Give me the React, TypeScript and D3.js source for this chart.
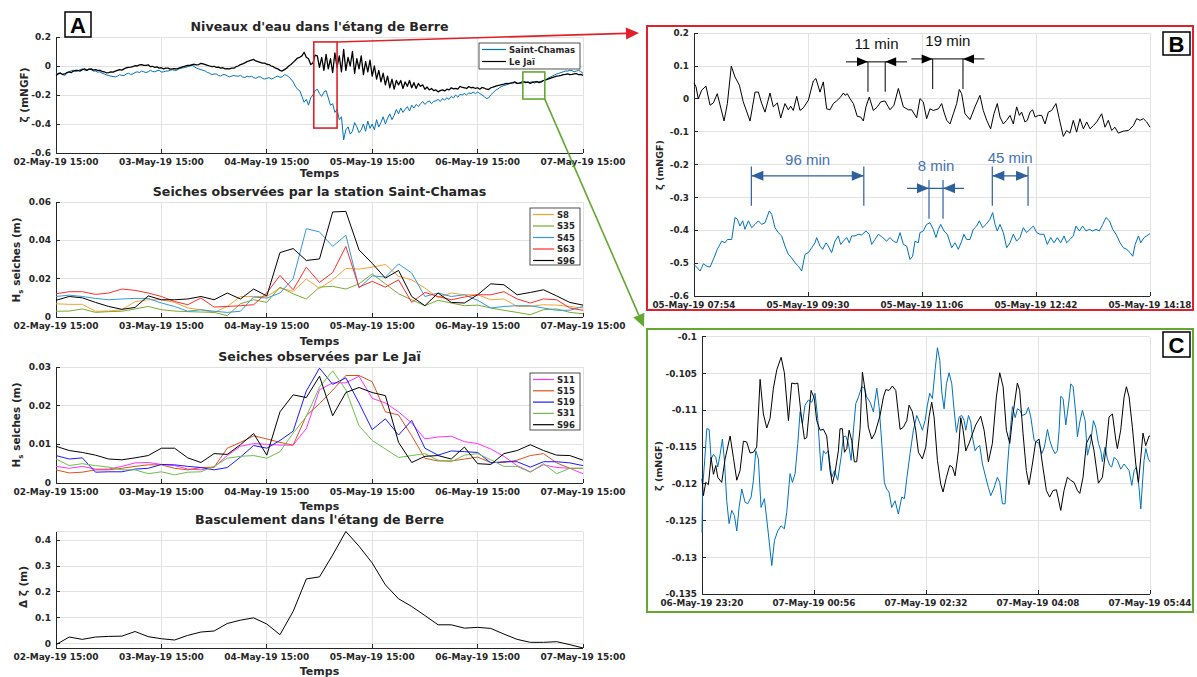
import * as d3 from 'd3';
import { useCallback } from 'react';

const W = 1197;
const H = 677;
const FONT = 'DejaVu Sans, sans-serif';
const INK = '#262626';
const GRID = '#e2e2e2';

// time origins
const aStart = new Date(2019, 4, 2, 15, 0);
const bStart = new Date(2019, 4, 5, 7, 54);
const cStart = new Date(2019, 4, 6, 23, 20);

// A1: half-hourly water levels (mNGF)
const saintChamas = [
  -0.055, -0.05, -0.045, -0.06, -0.065, -0.05, -0.04, -0.032, -0.03, -0.038, -0.035, -0.025, -0.02, -0.028, -0.03, -0.022, -0.025, -0.035, -0.035, -0.042, -0.04,
  -0.05, -0.055, -0.062, -0.065, -0.07, -0.072, -0.075, -0.07, -0.06, -0.065, -0.065, -0.055, -0.05, -0.058, -0.055, -0.045, -0.04, -0.045, -0.035, -0.04,
  -0.045, -0.04, -0.03, -0.038, -0.04, -0.032, -0.03, -0.042, -0.04, -0.035, -0.035, -0.03, -0.025, -0.03, -0.03, -0.02, -0.015, -0.012, -0.01, -0.005,
  0.0, 0.005, -0.005, -0.015, -0.02, -0.025, -0.03, -0.035, -0.045, -0.05, -0.06, -0.055, -0.055, -0.065, -0.07, -0.06, -0.06, -0.068, -0.075, -0.07,
  -0.065, -0.07, -0.07, -0.065, -0.075, -0.08, -0.07, -0.075, -0.07, -0.08, -0.085, -0.075, -0.075, -0.085, -0.09, -0.085, -0.08, -0.09, -0.085, -0.075,
  -0.07, -0.078, -0.075, -0.06, -0.065, -0.075, -0.09, -0.11, -0.14, -0.16, -0.17, -0.21, -0.25, -0.23, -0.27, -0.22, -0.2, -0.17, -0.16, -0.19,
  -0.21, -0.18, -0.17, -0.22, -0.27, -0.26, -0.32, -0.3, -0.37, -0.35, -0.51, -0.44, -0.42, -0.47, -0.45, -0.39, -0.42, -0.46, -0.44, -0.4,
  -0.45, -0.38, -0.43, -0.4, -0.44, -0.37, -0.42, -0.39, -0.35, -0.4, -0.36, -0.33, -0.37, -0.34, -0.3, -0.33, -0.29, -0.32, -0.3, -0.28,
  -0.31, -0.27, -0.29, -0.265, -0.28, -0.26, -0.245, -0.265, -0.25, -0.24, -0.26, -0.245, -0.24, -0.23, -0.245, -0.225, -0.235, -0.22, -0.23, -0.21,
  -0.22, -0.2, -0.215, -0.195, -0.2, -0.19, -0.2, -0.185, -0.19, -0.18, -0.19, -0.18, -0.19, -0.2, -0.21, -0.225, -0.22, -0.2, -0.185, -0.17,
  -0.16, -0.15, -0.14, -0.135, -0.13, -0.125, -0.12, -0.118, -0.115, -0.12, -0.118, -0.122, -0.112, -0.11, -0.115, -0.112, -0.11, -0.118, -0.108, -0.11,
  -0.105, -0.1, -0.095, -0.085, -0.078, -0.07, -0.062, -0.055, -0.05, -0.045, -0.04, -0.035, -0.035, -0.03, -0.032, -0.04, -0.035, -0.03, -0.038, -0.05,
];
const leJai = [
  -0.065, -0.055, -0.05, -0.058, -0.055, -0.045, -0.04, -0.045, -0.035, -0.03, -0.03, -0.035, -0.025, -0.02, -0.03, -0.022, -0.02, -0.028, -0.025, -0.03, -0.03,
  -0.038, -0.04, -0.048, -0.045, -0.04, -0.042, -0.035, -0.03, -0.025, -0.028, -0.02, -0.012, -0.01, -0.008, -0.005, 0.002, 0.0, 0.008, 0.01, 0.004,
  0.005, 0.008, -0.005, -0.002, -0.01, -0.006, -0.015, -0.012, -0.02, -0.015, -0.015, -0.022, -0.02, -0.018, -0.02, -0.015, -0.01, -0.005, 0.0, 0.004,
  0.005, 0.01, 0.012, 0.008, 0.01, 0.018, 0.015, 0.01, 0.005, 0.0, -0.005, -0.002, -0.01, -0.008, -0.015, -0.012, -0.02, -0.018, -0.02, -0.015,
  -0.015, -0.005, 0.0, 0.01, 0.015, 0.022, 0.03, 0.035, 0.04, 0.045, 0.035, 0.03, 0.025, 0.02, 0.02, 0.012, 0.01, 0.0, -0.005, -0.015,
  -0.02, -0.03, -0.035, -0.025, -0.015, 0.0, 0.01, 0.025, 0.04, 0.055, 0.06, 0.07, 0.095, 0.06, 0.05, 0.01, 0.02, 0.075, 0.07, -0.01,
  0.06, -0.03, 0.08, -0.02, 0.05, -0.045, 0.09, -0.01, 0.07, -0.04, 0.115, -0.03, 0.06, 0.0, 0.1, -0.05, 0.05, -0.02, 0.07, -0.06,
  0.03, -0.04, 0.04, -0.07, 0.0, -0.09, -0.03, -0.11, -0.05, -0.13, -0.07, -0.15, -0.09, -0.16, -0.1, -0.13, -0.1, -0.155, -0.11, -0.14,
  -0.1, -0.15, -0.115, -0.155, -0.12, -0.14, -0.13, -0.16, -0.145, -0.165, -0.155, -0.17, -0.165, -0.178, -0.17, -0.165, -0.172, -0.16, -0.165, -0.15,
  -0.158, -0.155, -0.16, -0.14, -0.148, -0.15, -0.155, -0.142, -0.15, -0.148, -0.155, -0.15, -0.16, -0.148, -0.152, -0.16, -0.162, -0.15, -0.145, -0.14,
  -0.135, -0.132, -0.128, -0.125, -0.12, -0.122, -0.118, -0.115, -0.11, -0.12, -0.118, -0.112, -0.108, -0.115, -0.11, -0.12, -0.112, -0.11, -0.108, -0.115,
  -0.11, -0.1, -0.095, -0.09, -0.085, -0.08, -0.075, -0.07, -0.068, -0.065, -0.06, -0.058, -0.055, -0.06, -0.058, -0.055, -0.052, -0.06, -0.058, -0.065,
];

// A2: seiches at Saint-Chamas, every 3 h (m)
const scS8 = [0.0069, 0.0066, 0.0066, 0.003, 0.0031, 0.0038, 0.008, 0.009, 0.009, 0.0076, 0.0047, 0.0038, 0.0024, 0.0055, 0.0107, 0.0107, 0.0107, 0.0151, 0.0134, 0.0198, 0.0149, 0.0194, 0.0253, 0.025, 0.026, 0.0274, 0.0212, 0.0194, 0.0151, 0.0101, 0.0125, 0.0116, 0.0116, 0.009, 0.0094, 0.0055, 0.0055, 0.0064, 0.0062, 0.0055, 0.0047];
const scS35 = [0.003, 0.0031, 0.0042, 0.0024, 0.0028, 0.003, 0.0042, 0.0055, 0.0038, 0.0031, 0.0028, 0.0026, 0.0024, 0.0007, 0.0069, 0.009, 0.0076, 0.0156, 0.0121, 0.0094, 0.0156, 0.016, 0.0146, 0.0173, 0.0225, 0.0173, 0.0121, 0.009, 0.0059, 0.0087, 0.0073, 0.0059, 0.0062, 0.0047, 0.0035, 0.0024, 0.0012, 0.0038, 0.0042, 0.0024, 0.0017];
const scS45 = [0.0107, 0.0114, 0.0107, 0.0097, 0.009, 0.0094, 0.0097, 0.0097, 0.0073, 0.0055, 0.003, 0.0038, 0.003, 0.0024, 0.003, 0.0104, 0.0099, 0.0125, 0.02, 0.0461, 0.0444, 0.0368, 0.0427, 0.0151, 0.0215, 0.0208, 0.0277, 0.0229, 0.0107, 0.0125, 0.0107, 0.0116, 0.0087, 0.0047, 0.0055, 0.0059, 0.0059, 0.0047, 0.0035, 0.0035, 0.0055];
const scS63 = [0.0121, 0.0132, 0.0132, 0.0118, 0.0125, 0.0146, 0.0139, 0.0125, 0.0107, 0.0081, 0.0064, 0.0099, 0.0052, 0.0055, 0.0059, 0.0064, 0.0125, 0.0217, 0.0142, 0.026, 0.018, 0.0232, 0.0368, 0.0156, 0.0186, 0.0156, 0.0194, 0.0076, 0.0128, 0.0107, 0.009, 0.0104, 0.0116, 0.0116, 0.0132, 0.0094, 0.0073, 0.0094, 0.009, 0.0047, 0.0035];
const scS96 = [0.0087, 0.0107, 0.01, 0.0076, 0.0055, 0.004, 0.005, 0.011, 0.009, 0.009, 0.0094, 0.0107, 0.009, 0.0125, 0.0094, 0.0146, 0.011, 0.0336, 0.0357, 0.0295, 0.0303, 0.0548, 0.0551, 0.035, 0.028, 0.0203, 0.0243, 0.0107, 0.0059, 0.0125, 0.0076, 0.0073, 0.0116, 0.0173, 0.0168, 0.0116, 0.0128, 0.0142, 0.011, 0.0076, 0.0062];

// A3: seiches at Le Jaï, every 3 h (m)
const ljS11 = [0.0043, 0.0038, 0.0043, 0.0036, 0.0036, 0.0043, 0.0052, 0.0053, 0.0048, 0.0045, 0.0036, 0.0034, 0.0041, 0.0071, 0.0095, 0.0102, 0.01, 0.0098, 0.0098, 0.0141, 0.0241, 0.0259, 0.0259, 0.0276, 0.0219, 0.0207, 0.0184, 0.0155, 0.0114, 0.0119, 0.0121, 0.0107, 0.0102, 0.0088, 0.0069, 0.0045, 0.0029, 0.0047, 0.004, 0.0038, 0.0024];
const ljS15 = [0.0034, 0.0026, 0.0028, 0.0034, 0.0034, 0.0038, 0.0043, 0.0047, 0.0047, 0.0038, 0.0034, 0.004, 0.0041, 0.009, 0.0105, 0.0122, 0.0114, 0.0105, 0.0098, 0.0174, 0.0205, 0.024, 0.0278, 0.0278, 0.0262, 0.0184, 0.0176, 0.0122, 0.0064, 0.0057, 0.0057, 0.0062, 0.0067, 0.0053, 0.0053, 0.0059, 0.0071, 0.0076, 0.0052, 0.0038, 0.0038];
const ljS19 = [0.0071, 0.0062, 0.0065, 0.0028, 0.0029, 0.0029, 0.0036, 0.0038, 0.0048, 0.0047, 0.0043, 0.004, 0.0034, 0.004, 0.0067, 0.0097, 0.009, 0.011, 0.0134, 0.0238, 0.0297, 0.0255, 0.0272, 0.0207, 0.0138, 0.0166, 0.0124, 0.0162, 0.009, 0.0072, 0.0083, 0.0081, 0.0079, 0.0052, 0.0055, 0.0055, 0.0041, 0.0055, 0.0055, 0.0052, 0.0045];
const ljS31 = [0.0062, 0.0045, 0.005, 0.0045, 0.0041, 0.0034, 0.0034, 0.0024, 0.0029, 0.0021, 0.0028, 0.0029, 0.0043, 0.0064, 0.0069, 0.0071, 0.0064, 0.0081, 0.0129, 0.0172, 0.0248, 0.029, 0.0241, 0.0148, 0.011, 0.0088, 0.0066, 0.0071, 0.0076, 0.0059, 0.0055, 0.0072, 0.0076, 0.006, 0.0043, 0.0043, 0.0028, 0.005, 0.0024, 0.0038, 0.0038];
const ljS96 = [0.0095, 0.0084, 0.0079, 0.0072, 0.0062, 0.006, 0.0065, 0.0071, 0.009, 0.009, 0.0065, 0.0053, 0.0076, 0.0074, 0.0099, 0.0128, 0.0072, 0.0184, 0.0228, 0.0221, 0.0276, 0.0174, 0.0234, 0.0247, 0.0234, 0.0226, 0.0105, 0.0053, 0.0069, 0.0071, 0.0062, 0.0093, 0.005, 0.0048, 0.0076, 0.0084, 0.0099, 0.0084, 0.0072, 0.0071, 0.0059];

// A4: tilt of the lagoon, every 3 h (m)
const bascule = [-0.005, 0.0245, 0.0155, 0.0245, 0.027, 0.028, 0.046, 0.026, 0.018, 0.013, 0.031, 0.044, 0.048, 0.077, 0.09, 0.099, 0.075, 0.0335, 0.124, 0.25, 0.258, 0.343, 0.434, 0.377, 0.312, 0.227, 0.173, 0.143, 0.108, 0.072, 0.072, 0.059, 0.062, 0.058, 0.036, 0.0155, 0.004, 0.004, 0.0065, -0.005, -0.018];

// B: zoom on the storm, [minutes after 05-May 07:54, level]
const bLeJai = [[0,0.049],[1.7,0.037],[3.6,0],[6.5,0.027],[10.1,0.039],[13.5,-0.019],[16.3,-0.012],[19.6,0.016],[25.3,-0.067],[28.1,-0.014],[31.4,0.1],[34.5,0.067],[38.2,0.042],[41.5,-0.009],[47.2,-0.067],[51.4,0.021],[54.2,0.021],[57,-0.014],[59.8,-0.04],[64,0.018],[66.8,-0.024],[70.2,-0.012],[73,-0.058],[76.6,-0.014],[79.4,-0.033],[81.4,-0.022],[83.6,-0.035],[86.5,0.008],[89.3,-0.035],[92.1,-0.027],[96.3,-0.004],[100.5,0.055],[102.7,0.062],[106.1,0.021],[108.9,0.052],[111.7,-0.03],[114.5,-0.033],[117.3,-0.014],[120.1,-0.006],[123,0.004],[125.8,0.018],[127.2,0.011],[129.1,0.016],[131.4,0.001],[134.2,-0.014],[137.5,-0.053],[140.4,-0.055],[142.6,-0.067],[144.8,-0.024],[147.6,0.006],[151,-0.035],[154.4,-0.024],[157.2,-0.009],[160.8,-0.006],[165,-0.033],[168.4,-0.019],[172.1,0.032],[176.3,-0.024],[180.5,-0.033],[183.3,-0.033],[187.5,-0.057],[190.3,0.001],[193.1,-0.009],[195.9,-0.06],[198.7,-0.03],[201.5,-0.035],[205.8,-0.03],[208.6,-0.014],[210.5,-0.04],[212.8,-0.065],[215.6,-0.076],[218.4,-0.045],[221.2,-0.014],[223.4,0.029],[225.4,0.016],[228.2,-0.045],[232.4,-0.063],[236.6,-0.024],[240.8,0.011],[243.6,-0.035],[246.5,-0.065],[249.8,-0.091],[252.6,-0.045],[255.4,-0.014],[257.7,-0.055],[260.5,-0.076],[263.3,-0.065],[266.1,-0.05],[268.9,-0.076],[271.7,-0.024],[274,-0.05],[275.9,-0.04],[278.7,-0.07],[280.7,-0.065],[283,-0.04],[285.2,-0.033],[287.2,-0.055],[290,-0.05],[292.8,-0.05],[295.6,-0.076],[298.4,-0.04],[301.2,-0.035],[304.8,-0.014],[307.6,-0.06],[311,-0.114],[313.8,-0.096],[316.6,-0.104],[319.4,-0.065],[322.2,-0.101],[325,-0.06],[327.9,-0.091],[330.7,-0.07],[333.5,-0.091],[336.3,-0.081],[339.1,-0.07],[343.3,-0.045],[346.1,-0.086],[348.9,-0.065],[351.7,-0.096],[354.5,-0.086],[357.3,-0.104],[361.5,-0.098],[365.8,-0.096],[370,-0.081],[372.8,-0.06],[375.6,-0.065],[378.4,-0.06],[381.2,-0.07],[384,-0.086]];
const bSaintChamas = [[0,-0.504],[2.2,-0.512],[5.1,-0.524],[7.9,-0.502],[10.7,-0.509],[13.5,-0.512],[16.8,-0.484],[19.6,-0.458],[23.3,-0.433],[26.1,-0.438],[28.1,-0.428],[31.7,-0.428],[34.5,-0.361],[36.5,-0.366],[38.7,-0.387],[41,-0.371],[42.9,-0.397],[45.8,-0.371],[48.6,-0.392],[51.4,-0.382],[54.2,-0.371],[57,-0.382],[59.8,-0.377],[63.4,-0.341],[65.4,-0.351],[68.2,-0.392],[71,-0.407],[73.8,-0.417],[76.6,-0.448],[79.4,-0.473],[82.2,-0.484],[85.1,-0.499],[87.9,-0.509],[90.7,-0.524],[93.5,-0.473],[96.3,-0.468],[99.1,-0.453],[101.9,-0.438],[103.3,-0.422],[106.1,-0.448],[108.4,-0.458],[111.2,-0.438],[113.1,-0.448],[115.9,-0.468],[118.7,-0.433],[121.5,-0.417],[123.5,-0.443],[125.8,-0.433],[128.6,-0.422],[130.8,-0.438],[132.8,-0.417],[135.6,-0.417],[138.4,-0.412],[141.2,-0.414],[144.8,-0.402],[147.6,-0.412],[149.6,-0.443],[152.4,-0.428],[155.2,-0.412],[158.9,-0.422],[162.2,-0.433],[165,-0.422],[167.9,-0.433],[170.7,-0.438],[173.5,-0.407],[176.3,-0.443],[179.1,-0.448],[181.9,-0.489],[184.1,-0.479],[186.1,-0.433],[188.9,-0.438],[190.3,-0.407],[193.1,-0.402],[195.9,-0.382],[198.7,-0.377],[201.5,-0.397],[203.8,-0.422],[205.8,-0.397],[207.8,-0.382],[210.5,-0.402],[213.3,-0.412],[217,-0.453],[219.8,-0.438],[222.6,-0.458],[225.4,-0.433],[227.3,-0.412],[229.6,-0.428],[232.4,-0.428],[235.2,-0.397],[238,-0.387],[240.3,-0.371],[243.1,-0.392],[245.9,-0.382],[249.3,-0.366],[251.5,-0.346],[253.5,-0.382],[255.4,-0.402],[257.7,-0.382],[260.5,-0.407],[263.3,-0.453],[266.1,-0.438],[268.9,-0.412],[271.7,-0.433],[274.5,-0.422],[277.3,-0.392],[280.1,-0.407],[282.9,-0.397],[285.8,-0.387],[288.6,-0.407],[291.4,-0.412],[294.7,-0.412],[297.5,-0.443],[300.4,-0.422],[303.2,-0.438],[306,-0.422],[308.8,-0.438],[311.6,-0.417],[313.8,-0.438],[316.6,-0.428],[319.4,-0.417],[321.7,-0.387],[324.5,-0.402],[327.3,-0.387],[330.1,-0.402],[332.9,-0.397],[335.7,-0.402],[338.5,-0.397],[341.3,-0.402],[344.2,-0.382],[347,-0.361],[349.8,-0.371],[352.6,-0.397],[355.4,-0.412],[358.8,-0.438],[361.6,-0.453],[364.4,-0.458],[367.2,-0.468],[369.5,-0.479],[371.5,-0.443],[374.3,-0.417],[376.2,-0.438],[379,-0.422],[381.2,-0.417],[384,-0.41]];

// C: calm period, [minutes after 06-May 23:20, level]
const cLeJai = [[0,-0.1193],[1.2,-0.1216],[3.2,-0.1198],[5.5,-0.1201],[7.8,-0.1164],[9.8,-0.1187],[11.8,-0.1175],[13.5,-0.1191],[16.9,-0.1198],[19.8,-0.1166],[24.1,-0.1135],[26.9,-0.1164],[29.8,-0.1195],[32.6,-0.1182],[35.5,-0.1142],[38.3,-0.1143],[41.2,-0.1158],[44.1,-0.1157],[46.9,-0.115],[49.8,-0.1058],[52.6,-0.1105],[55.5,-0.1124],[58.3,-0.1111],[61.2,-0.107],[64.1,-0.1045],[67.8,-0.1028],[70.6,-0.1049],[74.1,-0.1114],[76.9,-0.1063],[79.8,-0.1064],[82.1,-0.1063],[84.9,-0.1105],[87.8,-0.1139],[89.8,-0.1137],[93.5,-0.1073],[96.3,-0.1084],[98.3,-0.1114],[101.2,-0.1127],[104.1,-0.1126],[106.9,-0.1135],[109.8,-0.1182],[111.8,-0.12],[114.1,-0.1184],[116.9,-0.1155],[118.3,-0.1125],[120.3,-0.1125],[122.1,-0.1157],[124.1,-0.1152],[126.1,-0.1127],[128.3,-0.1141],[130.6,-0.117],[132.6,-0.117],[135.5,-0.1125],[137.5,-0.1048],[139.8,-0.1073],[142.6,-0.1123],[145.5,-0.1139],[148.3,-0.1131],[152.6,-0.1107],[155.5,-0.1082],[157.5,-0.1072],[160.3,-0.1073],[163.2,-0.1067],[166.1,-0.1073],[169.8,-0.1126],[172.6,-0.1123],[175.5,-0.1114],[177.5,-0.1093],[180.3,-0.1102],[183.2,-0.1127],[185.5,-0.1157],[188.9,-0.1166],[191.8,-0.115],[194.6,-0.1109],[196.9,-0.1089],[198.9,-0.1109],[201.8,-0.1168],[204.6,-0.12],[206.6,-0.1211],[209.5,-0.1191],[212.3,-0.1175],[214.6,-0.1177],[216.9,-0.1189],[219.8,-0.1155],[221.8,-0.111],[223.8,-0.1127],[226.1,-0.1155],[228.9,-0.1145],[231.8,-0.1132],[234.6,-0.112],[238.9,-0.1108],[241.8,-0.1127],[245.5,-0.117],[248.9,-0.1145],[252.3,-0.1082],[255.2,-0.1049],[258.1,-0.1068],[260.9,-0.1127],[263.8,-0.1145],[266.6,-0.1105],[270.3,-0.1063],[272.3,-0.1073],[275.2,-0.1132],[278,-0.1182],[280.3,-0.1201],[283.2,-0.1173],[286,-0.1143],[288.9,-0.1139],[291.8,-0.1173],[295.2,-0.1209],[298,-0.1218],[300.9,-0.1209],[303.8,-0.1208],[307.5,-0.1236],[310.3,-0.1209],[313.2,-0.1191],[316,-0.1195],[318.9,-0.1198],[321.8,-0.1209],[323.8,-0.1213],[326.6,-0.1191],[329.5,-0.1145],[333.2,-0.1133],[336,-0.1155],[339.8,-0.1199],[343.2,-0.1191],[346,-0.1155],[348.9,-0.1109],[351.8,-0.1105],[354.6,-0.1139],[356,-0.1152],[358.9,-0.1127],[361.8,-0.1082],[363.8,-0.1068],[366.1,-0.1082],[368.9,-0.1123],[371.8,-0.1173],[374.1,-0.1198],[376.1,-0.1164],[378,-0.1131],[380.3,-0.1148],[383.2,-0.1135],[384,-0.1135]];
const cSaintChamas = [[0,-0.1266],[0.5,-0.1205],[2.1,-0.1173],[4.1,-0.1125],[6.1,-0.1126],[7.8,-0.1166],[9.8,-0.116],[11.8,-0.1164],[13.5,-0.1177],[15.5,-0.116],[17.5,-0.1139],[19.2,-0.1168],[21.2,-0.1223],[23.2,-0.1254],[25.5,-0.1236],[27.8,-0.1243],[29.8,-0.1264],[31.8,-0.1232],[34.1,-0.1207],[36.9,-0.1225],[39.2,-0.1227],[42.1,-0.1218],[44.1,-0.1195],[46.1,-0.1155],[48.3,-0.1166],[50.6,-0.1232],[53.5,-0.122],[56.9,-0.1268],[59.8,-0.1311],[62.1,-0.1277],[64.9,-0.1264],[67.8,-0.1257],[70.6,-0.1261],[72.6,-0.1239],[75.5,-0.1186],[77.5,-0.1198],[79.8,-0.1186],[82.1,-0.1145],[84.1,-0.1102],[86.1,-0.1118],[88.3,-0.1093],[91.2,-0.1086],[94.1,-0.1089],[96.9,-0.1077],[99.2,-0.1111],[102.1,-0.1182],[104.1,-0.1155],[106.1,-0.1159],[108.3,-0.1155],[111.2,-0.1191],[113.5,-0.1182],[116.3,-0.1195],[119.2,-0.1164],[121.2,-0.1136],[123.2,-0.1135],[125.5,-0.1145],[127.8,-0.1168],[129.8,-0.1127],[131.8,-0.1091],[134.1,-0.1082],[136.9,-0.1068],[139.2,-0.107],[141.2,-0.1082],[144.1,-0.1089],[146.9,-0.1102],[149.8,-0.107],[151.8,-0.1095],[154.1,-0.1145],[156.3,-0.1198],[158.3,-0.1207],[160.3,-0.1211],[162.6,-0.1232],[165.5,-0.1223],[168.3,-0.1241],[171.2,-0.1218],[173.5,-0.122],[175.5,-0.1193],[178.3,-0.1159],[181.2,-0.1127],[184.1,-0.1107],[186.9,-0.1118],[188.9,-0.1127],[191.2,-0.1114],[193.2,-0.1093],[195.2,-0.1077],[197.5,-0.1084],[199.8,-0.1045],[201.8,-0.1015],[203.8,-0.1032],[205.5,-0.1075],[207.5,-0.1098],[209.5,-0.1064],[211.8,-0.1049],[214.1,-0.1064],[216.1,-0.11],[218.1,-0.113],[220.4,-0.1109],[222.7,-0.1107],[224.7,-0.1114],[226.1,-0.1127],[228.4,-0.1107],[230.4,-0.1116],[231.8,-0.1136],[234.1,-0.1155],[236.1,-0.115],[238.1,-0.1148],[240.4,-0.1173],[243.2,-0.1191],[245.5,-0.1205],[247.5,-0.1216],[250.4,-0.1205],[253.2,-0.1191],[255.2,-0.1198],[257.5,-0.1227],[259.8,-0.1227],[261.8,-0.1177],[263.8,-0.1136],[266.1,-0.1095],[268.4,-0.111],[270.4,-0.1098],[272.4,-0.11],[274.6,-0.1107],[277.5,-0.1105],[279.8,-0.1096],[281.8,-0.1109],[284.7,-0.1141],[286.7,-0.1143],[288.9,-0.1145],[291.2,-0.1159],[293.5,-0.115],[296.1,-0.1126],[298.1,-0.1141],[300.4,-0.1152],[302.6,-0.1159],[304.6,-0.1155],[306.1,-0.1127],[307.5,-0.1081],[309.5,-0.1084],[311.8,-0.112],[314.1,-0.1093],[316.1,-0.1064],[318.1,-0.1068],[320.4,-0.1105],[321.8,-0.1136],[323.8,-0.1116],[326.1,-0.11],[328.4,-0.1114],[330.4,-0.1161],[333.2,-0.1143],[335.5,-0.1114],[337.5,-0.1123],[339.8,-0.1145],[341.8,-0.1155],[343.2,-0.117],[345.5,-0.115],[347.5,-0.1166],[349.5,-0.1175],[351.2,-0.1177],[353.2,-0.1164],[356.1,-0.1168],[358.9,-0.118],[361.8,-0.1173],[363.8,-0.1177],[366.1,-0.1182],[368.4,-0.1202],[370.4,-0.1182],[372.4,-0.1177],[374.6,-0.1205],[376.1,-0.1234],[377.5,-0.12],[378.9,-0.1168],[380.4,-0.1152],[382.6,-0.1166],[384,-0.117]];

// B period annotations (minutes, levels)
const bBlackSpans = [
  { label: '11 min', t0: 146.5, t1: 161, top: 0.113, bot: 0.022, out0: 128, out1: 179.4, labelV: 0.166 },
  { label: '19 min', t0: 201, t1: 226.5, top: 0.122, bot: 0.03, out0: 183, out1: 244.6, labelV: 0.177 },
];
const bBlueSpans = [
  { label: '96 min', t0: 48.3, t1: 143, top: -0.206, bot: -0.325, arrowV: -0.234, labelV: -0.186, outside: false },
  { label: '8 min', t0: 197.9, t1: 209.7, top: -0.247, bot: -0.365, arrowV: -0.272, labelV: -0.204, outside: true, out0: 179.4, out1: 227.4 },
  { label: '45 min', t0: 251.2, t1: 281.3, top: -0.206, bot: -0.325, arrowV: -0.234, labelV: -0.179, outside: false },
];

// zoom windows on A1 (hours, levels)
const redWindow = { h0: 58.7, h1: 64, v0: 0.166, v1: -0.428 };
const greenWindow = { h0: 106.3, h1: 111.3, v0: -0.041, v1: -0.228 };

const dayTicks = [0, 1, 2, 3, 4, 5];
const minTicks = [0, 96, 192, 288, 384];

const at = (base: Date, min: number) => new Date(base.getTime() + min * 60000);
const fmtT = d3.timeFormat('%d-%b-%y %H:%M');
const fmtN = (v: number) => String(+v.toFixed(3));

function frame(g: any, x: any, y: any, xt: any[], yt: number[], fs: number) {
  const [l, r] = x.range();
  const [b, t] = y.range();
  const grid = g.append('g').attr('stroke', GRID).attr('shape-rendering', 'crispEdges');
  yt.forEach((v) => grid.append('line').attr('x1', l).attr('x2', r).attr('y1', y(v)).attr('y2', y(v)));
  xt.forEach((v) => grid.append('line').attr('x1', x(v)).attr('x2', x(v)).attr('y1', t).attr('y2', b));
  grid.append('line').attr('x1', l).attr('x2', r).attr('y1', t).attr('y2', t);
  grid.append('line').attr('x1', r).attr('x2', r).attr('y1', t).attr('y2', b);
  const ax = g.append('g').attr('stroke', INK).attr('shape-rendering', 'crispEdges');
  ax.append('line').attr('x1', l).attr('x2', l).attr('y1', t).attr('y2', b);
  ax.append('line').attr('x1', l).attr('x2', r).attr('y1', b).attr('y2', b);
  xt.forEach((v) => ax.append('line').attr('x1', x(v)).attr('x2', x(v)).attr('y1', b).attr('y2', b - 4));
  yt.forEach((v) => ax.append('line').attr('x1', l).attr('x2', l + 4).attr('y1', y(v)).attr('y2', y(v)));
  const lab = g.append('g').attr('font-family', FONT).attr('font-weight', 'bold').attr('font-size', fs).attr('fill', INK);
  xt.forEach((v) =>
    lab.append('text').attr('x', x(v)).attr('y', b + fs + 3).attr('text-anchor', 'middle').text(fmtT(v)),
  );
  yt.forEach((v) =>
    lab.append('text').attr('x', l - 5).attr('y', y(v)).attr('dy', '0.35em').attr('text-anchor', 'end').text(fmtN(v)),
  );
}

function text(g: any, x: number, y: number, s: string, fs: number, opts: any = {}) {
  const t = g
    .append('text')
    .attr('x', x)
    .attr('y', y)
    .attr('text-anchor', opts.anchor || 'middle')
    .attr('font-family', opts.family || FONT)
    .attr('font-weight', opts.weight || 'bold')
    .attr('font-size', fs)
    .attr('fill', opts.color || INK)
    .text(s);
  if (opts.rotate) t.attr('transform', `rotate(-90, ${x}, ${y})`);
  return t;
}

function hsLabel(g: any, x: number, y: number) {
  const t = g
    .append('text')
    .attr('transform', `translate(${x},${y}) rotate(-90)`)
    .attr('text-anchor', 'middle')
    .attr('font-family', FONT)
    .attr('font-weight', 'bold')
    .attr('font-size', 10.5)
    .attr('fill', INK);
  t.append('tspan').text('H');
  t.append('tspan').attr('font-size', 7).attr('dy', 3).text('s');
  t.append('tspan').attr('dy', -3).text(' seiches (m)');
}

function legend(g: any, x0: number, y0: number, w: number, h: number, items: any[], step: number, len: number) {
  g.append('rect').attr('x', x0).attr('y', y0).attr('width', w).attr('height', h).attr('fill', '#fff').attr('stroke', INK).attr('stroke-width', 0.8);
  items.forEach((it, i) => {
    const cy = y0 + 6.5 + i * step;
    g.append('line').attr('x1', x0 + 3).attr('x2', x0 + 3 + len).attr('y1', cy).attr('y2', cy).attr('stroke', it.color).attr('stroke-width', 1.2);
    text(g, x0 + len + 6, cy + 3, it.name, 8.5, { anchor: 'start' });
  });
}

function head(g: any, x: number, y: number, dir: number, color: string, len = 11, hw = 4.5) {
  g.append('path')
    .attr('d', `M${x},${y}L${x - dir * len},${y - hw}L${x - dir * len},${y + hw}Z`)
    .attr('fill', color);
}

function arrowLine(g: any, x1: number, y1: number, x2: number, y2: number, color: string) {
  const a = Math.atan2(y2 - y1, x2 - x1);
  const len = 13;
  const hw = 6;
  const bx = x2 - len * Math.cos(a);
  const by = y2 - len * Math.sin(a);
  g.append('line').attr('x1', x1).attr('y1', y1).attr('x2', bx).attr('y2', by).attr('stroke', color).attr('stroke-width', 1.6);
  g.append('path')
    .attr('d', `M${x2},${y2}L${bx - hw * Math.sin(a)},${by + hw * Math.cos(a)}L${bx + hw * Math.sin(a)},${by - hw * Math.cos(a)}Z`)
    .attr('fill', color);
}

function letterBox(g: any, x: number, y: number, w: number, h: number, s: string) {
  g.append('rect').attr('x', x).attr('y', y).attr('width', w).attr('height', h).attr('fill', '#fff').attr('stroke', '#000').attr('stroke-width', 1.5);
  text(g, x + w / 2, y + h / 2 + 8, s, 22, { family: 'Liberation Sans, sans-serif', color: '#000' });
}

const App = () => {
  const draw = useCallback((ref: SVGSVGElement | null) => {
    if (!ref) return;
    const svg = d3.select(ref);
    svg.selectAll('*').remove();
    svg.append('rect').attr('width', W).attr('height', H).attr('fill', '#fff');

    const aEnd = at(aStart, 120 * 60);
    const xA = d3.scaleTime().domain([aStart, aEnd]).range([56, 583]);
    const aTicks = dayTicks.map((d) => at(aStart, d * 1440));
    const halfHourly = (v: number[]) => v.map((y, i) => [at(aStart, i * 30), y]);
    const threeHourly = (v: number[]) => v.map((y, i) => [at(aStart, i * 180), y]);

    const plotLine = (g: any, x: any, y: any, pts: any[], color: string, w = 1) => {
      const line = d3
        .line<any>()
        .x((d) => x(d[0]))
        .y((d) => y(d[1]));
      g.append('path').attr('d', line(pts)).attr('fill', 'none').attr('stroke', color).attr('stroke-width', w).attr('stroke-linejoin', 'round');
    };

    // ---------- A1 ----------
    const g1 = svg.append('g');
    const y1 = d3.scaleLinear().domain([-0.6, 0.2]).range([153, 37]);
    frame(g1, xA, y1, aTicks, [-0.6, -0.4, -0.2, 0, 0.2], 9);
    plotLine(g1, xA, y1, halfHourly(saintChamas), '#0072bd', 1);
    plotLine(g1, xA, y1, halfHourly(leJai), '#000', 1.3);
    text(g1, 319.5, 31, "Niveaux d'eau dans l'étang de Berre", 12.6);
    text(g1, 319.5, 177, 'Temps', 11);
    text(g1, 28, 95, 'ζ (mNGF)', 10.5, { rotate: true });
    legend(g1, 479, 43, 101, 26, [
      { name: 'Saint-Chamas', color: '#0072bd' },
      { name: 'Le Jaï', color: '#000' },
    ], 12, 24);
    const hx = (h: number) => xA(at(aStart, h * 60));
    const red = { x0: hx(redWindow.h0), x1: hx(redWindow.h1), y0: y1(redWindow.v0), y1: y1(redWindow.v1) };
    const green = { x0: hx(greenWindow.h0), x1: hx(greenWindow.h1), y0: y1(greenWindow.v0), y1: y1(greenWindow.v1) };
    g1.append('rect').attr('x', red.x0).attr('y', red.y0).attr('width', red.x1 - red.x0).attr('height', red.y1 - red.y0).attr('fill', 'none').attr('stroke', '#e0202a').attr('stroke-width', 1.6);
    g1.append('rect').attr('x', green.x0).attr('y', green.y0).attr('width', green.x1 - green.x0).attr('height', green.y1 - green.y0).attr('fill', 'none').attr('stroke', '#63a832').attr('stroke-width', 1.6);

    // ---------- A2 ----------
    const g2 = svg.append('g');
    const y2 = d3.scaleLinear().domain([0, 0.06]).range([317, 202]);
    frame(g2, xA, y2, aTicks, [0, 0.02, 0.04, 0.06], 9);
    const a2 = [
      { name: 'S8', color: '#f7a233', v: scS8 },
      { name: 'S35', color: '#77ac30', v: scS35 },
      { name: 'S45', color: '#3399d8', v: scS45 },
      { name: 'S63', color: '#ff2b2b', v: scS63 },
      { name: 'S96', color: '#000', v: scS96 },
    ];
    a2.forEach((s) => plotLine(g2, xA, y2, threeHourly(s.v), s.color, 1));
    text(g2, 319.5, 196, 'Seiches observées par la station Saint-Chamas', 12.6);
    text(g2, 319.5, 345, 'Temps', 11);
    hsLabel(g2, 20, 260);
    legend(g2, 530, 208, 50, 57, a2, 11.5, 21);

    // ---------- A3 ----------
    const g3 = svg.append('g');
    const y3 = d3.scaleLinear().domain([0, 0.03]).range([483, 367]);
    frame(g3, xA, y3, aTicks, [0, 0.01, 0.02, 0.03], 9);
    const a3 = [
      { name: 'S11', color: '#ff33ff', v: ljS11 },
      { name: 'S15', color: '#d95319', v: ljS15 },
      { name: 'S19', color: '#1a1aff', v: ljS19 },
      { name: 'S31', color: '#6cbf4c', v: ljS31 },
      { name: 'S96', color: '#000', v: ljS96 },
    ];
    a3.forEach((s) => plotLine(g3, xA, y3, threeHourly(s.v), s.color, 1));
    text(g3, 319.5, 361, 'Seiches observées par Le Jaï', 12.6);
    text(g3, 319.5, 510, 'Temps', 11);
    hsLabel(g3, 20, 425);
    legend(g3, 530, 373, 50, 57, a3, 11.3, 21);

    // ---------- A4 ----------
    const g4 = svg.append('g');
    const y4 = d3.scaleLinear().domain(d3.extent(bascule) as [number, number]).range([648, 531.5]);
    frame(g4, xA, y4, aTicks, [0, 0.1, 0.2, 0.3, 0.4], 9);
    plotLine(g4, xA, y4, threeHourly(bascule), '#000', 1);
    text(g4, 319.5, 524, "Basculement dans l'étang de Berre", 12.6);
    text(g4, 319.5, 675, 'Temps', 11);
    text(g4, 27, 587, 'Δ ζ (m)', 10.5, { rotate: true });
    letterBox(svg, 65, 12, 26, 25, 'A');

    // ---------- B ----------
    const gB = svg.append('g');
    gB.append('rect').attr('x', 647).attr('y', 26).attr('width', 546).attr('height', 284).attr('fill', '#fff').attr('stroke', '#e0202a').attr('stroke-width', 2);
    const xB = d3.scaleTime().domain([bStart, at(bStart, 384)]).range([694, 1150]);
    const yB = d3.scaleLinear().domain([-0.6, 0.2]).range([296, 33.3]);
    frame(gB, xB, yB, minTicks.map((m) => at(bStart, m)), [-0.6, -0.5, -0.4, -0.3, -0.2, -0.1, 0, 0.1, 0.2], 8.8);
    plotLine(gB, xB, yB, bLeJai.map((d) => [at(bStart, d[0]), d[1]]), '#000', 1);
    plotLine(gB, xB, yB, bSaintChamas.map((d) => [at(bStart, d[0]), d[1]]), '#0072bd', 1);
    text(gB, 663, 165, 'ζ (mNGF)', 9.5, { rotate: true });
    const bx = (m: number) => xB(at(bStart, m));
    bBlackSpans.forEach((s) => {
      const ay = yB(s.top);
      gB.append('line').attr('x1', bx(s.out0)).attr('x2', bx(s.out1)).attr('y1', ay).attr('y2', ay).attr('stroke', '#000').attr('stroke-width', 1);
      [s.t0, s.t1].forEach((t) =>
        gB.append('line').attr('x1', bx(t)).attr('x2', bx(t)).attr('y1', ay).attr('y2', yB(s.bot)).attr('stroke', '#000').attr('stroke-width', 1),
      );
      head(gB, bx(s.t0), ay, 1, '#000');
      head(gB, bx(s.t1), ay, -1, '#000');
      text(gB, (bx(s.t0) + bx(s.t1)) / 2, yB(s.labelV) + 5, s.label, 15, { family: 'Liberation Sans, sans-serif', weight: 'normal', color: '#111' });
    });
    bBlueSpans.forEach((s: any) => {
      const ay = yB(s.arrowV);
      const col = '#2e5f9f';
      [s.t0, s.t1].forEach((t: number) =>
        gB.append('line').attr('x1', bx(t)).attr('x2', bx(t)).attr('y1', yB(s.top)).attr('y2', yB(s.bot)).attr('stroke', col).attr('stroke-width', 1.2),
      );
      if (s.outside) {
        gB.append('line').attr('x1', bx(s.out0)).attr('x2', bx(s.out1)).attr('y1', ay).attr('y2', ay).attr('stroke', col).attr('stroke-width', 1.2);
        head(gB, bx(s.t0), ay, 1, col, 12, 5);
        head(gB, bx(s.t1), ay, -1, col, 12, 5);
      } else {
        gB.append('line').attr('x1', bx(s.t0)).attr('x2', bx(s.t1)).attr('y1', ay).attr('y2', ay).attr('stroke', col).attr('stroke-width', 1.2);
        head(gB, bx(s.t0), ay, -1, col, 12, 5);
        head(gB, bx(s.t1), ay, 1, col, 12, 5);
      }
      text(gB, (bx(s.t0) + bx(s.t1)) / 2, yB(s.labelV) + 5, s.label, 15, { family: 'Liberation Sans, sans-serif', weight: 'normal', color: '#4272b8' });
    });
    letterBox(svg, 1163, 32, 27, 23, 'B');

    // ---------- C ----------
    const gC = svg.append('g');
    gC.append('rect').attr('x', 647).attr('y', 329).attr('width', 546).attr('height', 283).attr('fill', '#fff').attr('stroke', '#63a832').attr('stroke-width', 2);
    const xC = d3.scaleTime().domain([cStart, at(cStart, 384)]).range([702, 1150]);
    const yC = d3.scaleLinear().domain([-0.135, -0.1]).range([594.3, 336.7]);
    frame(gC, xC, yC, minTicks.map((m) => at(cStart, m)), [-0.135, -0.13, -0.125, -0.12, -0.115, -0.11, -0.105, -0.1], 8.8);
    plotLine(gC, xC, yC, cSaintChamas.map((d) => [at(cStart, d[0]), d[1]]), '#0072bd', 1);
    plotLine(gC, xC, yC, cLeJai.map((d) => [at(cStart, d[0]), d[1]]), '#000', 1);
    text(gC, 662, 466, 'ζ (mNGF)', 9.5, { rotate: true });
    letterBox(svg, 1163, 332, 27, 25, 'C');

    // ---------- links ----------
    const links = svg.append('g');
    arrowLine(links, red.x1, red.y0, 639, 33, '#e0202a');
    arrowLine(links, green.x1, green.y1, 644, 327, '#63a832');
  }, []);

  return (
    <div style={{ position: 'absolute', left: 0, top: 0 }}>
      <svg width={W} height={H} ref={draw}></svg>
    </div>
  );
};

export default App;
